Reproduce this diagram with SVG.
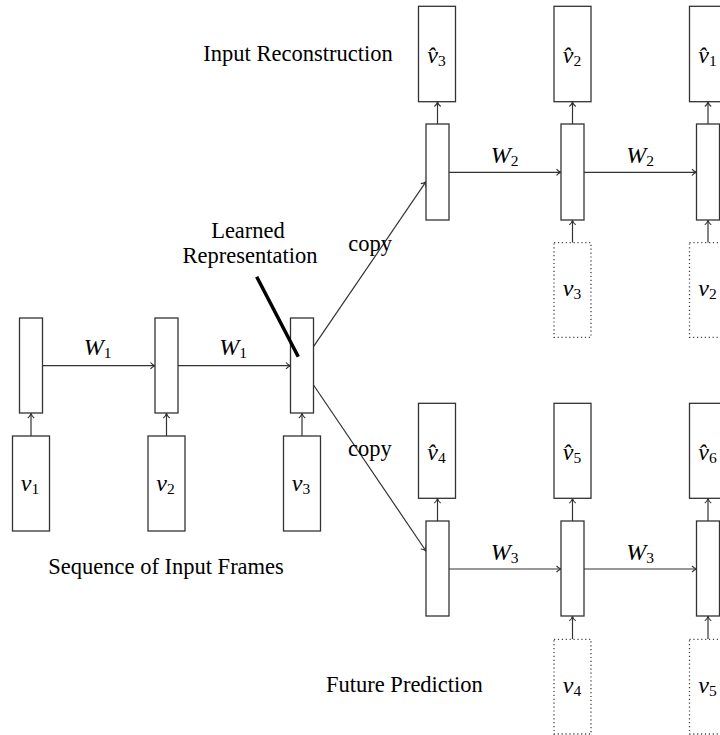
<svg xmlns="http://www.w3.org/2000/svg" width="720" height="735" viewBox="0 0 720 735">
<style>
.box{fill:#fff;stroke:#333;stroke-width:1.3}
.dot{fill:#fff;stroke:#444;stroke-width:1.3;stroke-dasharray:1.2 2.7}
.ln{fill:none;stroke:#333;stroke-width:1.2}
.lbl{font-family:"Liberation Serif","Times New Roman",serif;font-size:22.5px;fill:#000}
.m{font-family:"Liberation Serif","Times New Roman",serif;font-style:italic;font-size:24px;fill:#000;text-anchor:middle}
.sub{font-style:normal;font-size:15.5px}
</style>
<defs>
<marker id="ah" viewBox="-6 -4 7 8" refX="0" refY="0" markerWidth="7" markerHeight="8" orient="auto" markerUnits="userSpaceOnUse">
<path d="M-4.5,-3.2 C-3,-1.2 -1,-0.3 0,0 C-1,0.3 -3,1.2 -4.5,3.2" fill="none" stroke="#333" stroke-width="1.1"/>
</marker>
</defs>
<rect width="720" height="735" fill="#fff"/>

<g id="connectors">
<line class="ln" x1="42.5" y1="365.7" x2="155" y2="365.7" marker-end="url(#ah)"/>
<line class="ln" x1="178" y1="365.7" x2="290.5" y2="365.7" marker-end="url(#ah)"/>
<line class="ln" x1="31" y1="436" x2="31" y2="413.5" marker-end="url(#ah)"/>
<line class="ln" x1="166.5" y1="436" x2="166.5" y2="413.5" marker-end="url(#ah)"/>
<line class="ln" x1="302" y1="436" x2="302" y2="413.5" marker-end="url(#ah)"/>
<line class="ln" x1="313.5" y1="346.7" x2="426" y2="181.7" marker-end="url(#ah)"/>
<line class="ln" x1="313.5" y1="385" x2="426" y2="551" marker-end="url(#ah)"/>
<line class="ln" x1="449" y1="172.3" x2="561" y2="172.3" marker-end="url(#ah)"/>
<line class="ln" x1="584" y1="172.3" x2="696.5" y2="172.3" marker-end="url(#ah)"/>
<line class="ln" x1="437.5" y1="124" x2="437.5" y2="102" marker-end="url(#ah)"/>
<line class="ln" x1="572.5" y1="124" x2="572.5" y2="102" marker-end="url(#ah)"/>
<line class="ln" x1="708" y1="124" x2="708" y2="102" marker-end="url(#ah)"/>
<line class="ln" x1="572.5" y1="242.7" x2="572.5" y2="220.3" marker-end="url(#ah)"/>
<line class="ln" x1="708" y1="242.7" x2="708" y2="220.3" marker-end="url(#ah)"/>
<line class="ln" x1="449" y1="569" x2="561" y2="569" marker-end="url(#ah)"/>
<line class="ln" x1="584" y1="569" x2="696.5" y2="569" marker-end="url(#ah)"/>
<line class="ln" x1="437.5" y1="521" x2="437.5" y2="498.6" marker-end="url(#ah)"/>
<line class="ln" x1="572.5" y1="521" x2="572.5" y2="498.6" marker-end="url(#ah)"/>
<line class="ln" x1="708" y1="521" x2="708" y2="498.6" marker-end="url(#ah)"/>
<line class="ln" x1="572.5" y1="639.3" x2="572.5" y2="616.3" marker-end="url(#ah)"/>
<line class="ln" x1="708" y1="639.3" x2="708" y2="616.3" marker-end="url(#ah)"/>
</g>

<g id="enc-h1"><rect class="box" x="19.5" y="318" width="23" height="95"/></g>
<g id="enc-h2"><rect class="box" x="155" y="318" width="23" height="95"/></g>
<g id="enc-h3"><rect class="box" x="290.5" y="318" width="23" height="95"/></g>
<g id="in-v1"><rect class="box" x="12.5" y="436" width="37" height="95"/><text class="m" x="30" y="490.5">v<tspan class="sub" dy="3">1</tspan></text></g>
<g id="in-v2"><rect class="box" x="148" y="436" width="37" height="95"/><text class="m" x="165.5" y="490.5">v<tspan class="sub" dy="3">2</tspan></text></g>
<g id="in-v3"><rect class="box" x="283.5" y="436" width="37" height="95"/><text class="m" x="301" y="490.5">v<tspan class="sub" dy="3">3</tspan></text></g>

<g id="rec-h1"><rect class="box" x="426" y="124" width="23" height="96"/></g>
<g id="rec-h2"><rect class="box" x="561" y="124" width="23" height="96"/></g>
<g id="rec-h3"><rect class="box" x="696.5" y="124" width="23" height="96"/></g>
<g id="rec-o3"><rect class="box" x="418.5" y="6.3" width="37" height="95.4"/><text class="m" x="436.5" y="62.7">v̂<tspan class="sub" dy="3">3</tspan></text></g>
<g id="rec-o2"><rect class="box" x="554" y="6.3" width="37" height="95.4"/><text class="m" x="572" y="62.7">v̂<tspan class="sub" dy="3">2</tspan></text></g>
<g id="rec-o1"><rect class="box" x="689.5" y="6.3" width="37" height="95.4"/><text class="m" x="707.5" y="62.7">v̂<tspan class="sub" dy="3">1</tspan></text></g>
<g id="rec-i3"><rect class="dot" x="554" y="242.7" width="37" height="94.6"/><text class="m" x="572" y="296">v<tspan class="sub" dy="3">3</tspan></text></g>
<g id="rec-i2"><rect class="dot" x="689.5" y="242.7" width="37" height="94.6"/><text class="m" x="707.5" y="296">v<tspan class="sub" dy="3">2</tspan></text></g>

<g id="fut-h1"><rect class="box" x="426" y="521" width="23" height="95"/></g>
<g id="fut-h2"><rect class="box" x="561" y="521" width="23" height="95"/></g>
<g id="fut-h3"><rect class="box" x="696.5" y="521" width="23" height="95"/></g>
<g id="fut-o4"><rect class="box" x="418.5" y="403.3" width="37" height="95"/><text class="m" x="436.5" y="460">v̂<tspan class="sub" dy="3">4</tspan></text></g>
<g id="fut-o5"><rect class="box" x="554" y="403.3" width="37" height="95"/><text class="m" x="572" y="460">v̂<tspan class="sub" dy="3">5</tspan></text></g>
<g id="fut-o6"><rect class="box" x="689.5" y="403.3" width="37" height="95"/><text class="m" x="707.5" y="460">v̂<tspan class="sub" dy="3">6</tspan></text></g>
<g id="fut-i4"><rect class="dot" x="554" y="639.3" width="37" height="94.7"/><text class="m" x="572" y="692.5">v<tspan class="sub" dy="3">4</tspan></text></g>
<g id="fut-i5"><rect class="dot" x="689.5" y="639.3" width="37" height="94.7"/><text class="m" x="707.5" y="692.5">v<tspan class="sub" dy="3">5</tspan></text></g>

<g id="weights">
<text class="m" x="97.5" y="355">W<tspan class="sub" dy="3">1</tspan></text>
<text class="m" x="233" y="355">W<tspan class="sub" dy="3">1</tspan></text>
<text class="m" x="504.5" y="162.7">W<tspan class="sub" dy="3">2</tspan></text>
<text class="m" x="640" y="162.7">W<tspan class="sub" dy="3">2</tspan></text>
<text class="m" x="504.5" y="560">W<tspan class="sub" dy="3">3</tspan></text>
<text class="m" x="640" y="560">W<tspan class="sub" dy="3">3</tspan></text>
</g>

<g id="labels">
<text class="lbl" x="203.3" y="60.7">Input Reconstruction</text>
<text class="lbl" x="48.3" y="574.3">Sequence of Input Frames</text>
<text class="lbl" x="326" y="691.7">Future Prediction</text>
<text class="lbl" x="348.3" y="251">copy</text>
<text class="lbl" x="348" y="456">copy</text>
<text class="lbl" x="248" y="238.3" text-anchor="middle">Learned</text>
<text class="lbl" x="250" y="263.3" text-anchor="middle">Representation</text>
</g>
<g id="pointer"><line x1="256.7" y1="276.7" x2="298.3" y2="356.7" stroke="#000" stroke-width="3.5"/></g>
</svg>
